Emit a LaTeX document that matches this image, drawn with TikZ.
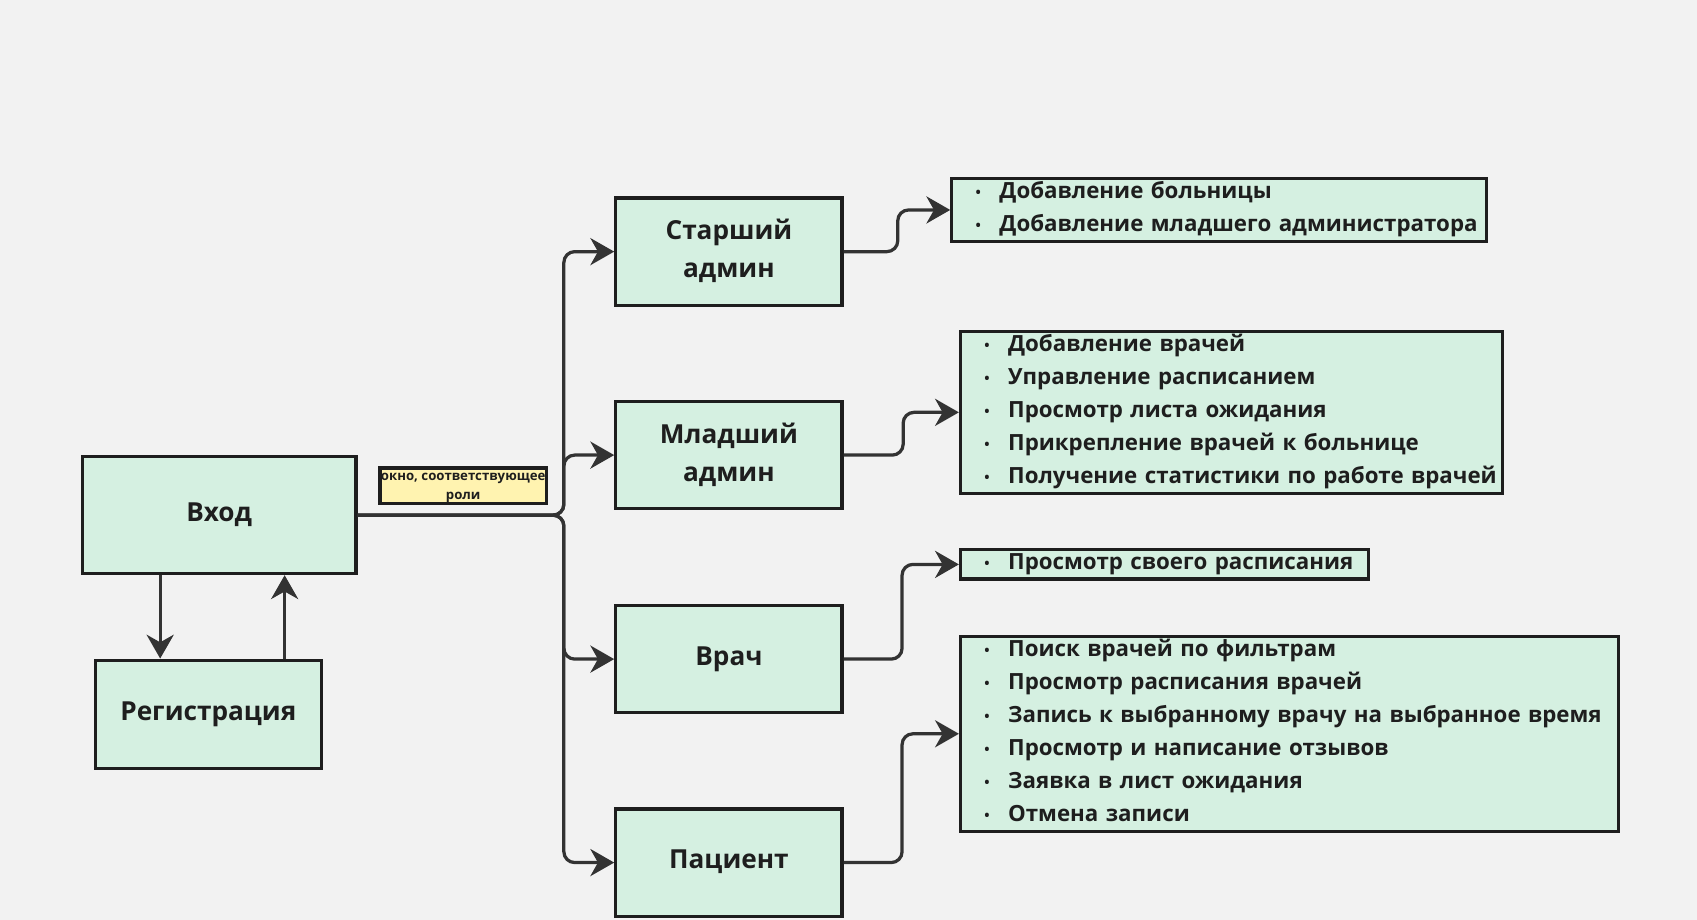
\documentclass[tikz,border=0pt]{standalone}
\usepackage{fontspec}
\setmainfont{Open Sans}
\usetikzlibrary{arrows.meta,positioning}

\definecolor{bgcol}{HTML}{F2F2F2}
\definecolor{mint}{HTML}{D5F0E1}
\definecolor{notecol}{HTML}{FFF3B0}
\definecolor{edgecol}{HTML}{333333}
\definecolor{framecol}{HTML}{1E1E1E}

% one bullet line of a list box
\newcommand{\itm}[1]{\hspace*{22pt}\makebox[22pt][l]{\raisebox{1pt}{\fontsize{13}{13}\selectfont•}}%
  \rule[-6pt]{0pt}{21pt}\mbox{#1}}

\begin{document}
\begin{tikzpicture}[x=1pt,y=-1pt,
    box/.style={draw=framecol,line width=3pt,fill=mint,text=framecol,
      minimum width=209pt,minimum height=99pt,align=center,
      execute at begin node={\rule[-6pt]{0pt}{23.8pt}},
      font=\fontsize{24.2}{35}\selectfont\bfseries},
    listbox/.style={draw=framecol,line width=3pt,fill=mint,text=framecol,
      anchor=west,inner xsep=0pt,inner ysep=0pt,align=left,
      font=\fontsize{20.6}{30.5}\selectfont\bfseries},
    notebox/.style={draw=framecol,line width=3pt,fill=notecol,text=framecol,
      minimum width=154pt,minimum height=33pt,inner sep=0pt,align=center,
      font=\fontsize{12.2}{18}\selectfont\bfseries},
    conn/.style={draw=edgecol,line width=3pt,rounded corners=10pt,
      -{Stealth[length=22pt,width=25pt,inset=7pt]}}]
    \fill [bgcol] (0,0) rectangle (1568,850);
    \useasboundingbox (0,0) rectangle (1568,850);

    % left part
    \node [box,minimum width=253pt,minimum height=108pt] (entry) at (202.5,476) {Вход};
    \node [box,minimum height=100pt] (reg) at (192.5,660) {Регистрация};
    \node [notebox] (hint) at (428,449) {\rule{0pt}{10.7pt}окно, соответствующее\\роли};

    % roles
    \node [box] (senior) at (673.5,232.5) {Старший\\админ};
    \node [box] (junior) at (673.5,420.5) {Младший\\админ};
    \node [box] (doctor) at (673.5,609) {Врач};
    \node [box] (patient) at (673.5,797) {Пациент};

    % what each role can do
    \node [listbox,text width=494pt,minimum height=58pt] (list1) at (878,194)
      {\itm{Добавление больницы}\\
       \itm{Добавление младшего администратора}};
    \node [listbox,text width=501pt,minimum height=150pt] (list2) at (886,381)
      {\itm{Добавление врачей}\\
       \itm{Управление расписанием}\\
       \itm{Просмотр листа ожидания}\\
       \itm{Прикрепление врачей к больнице}\\
       \itm{Получение статистики по работе врачей}};
    \node [listbox,text width=377pt,minimum height=27pt] (list3) at (886,521.5)
      {\itm{Просмотр своего расписания}};
    \node [listbox,text width=608pt,minimum height=180pt] (list4) at (886,678)
      {\itm{Поиск врачей по фильтрам}\\
       \itm{Просмотр расписания врачей}\\
       \itm{Запись к выбранному врачу на выбранное время}\\
       \itm{Просмотр и написание отзывов}\\
       \itm{Заявка в лист ожидания}\\
       \itm{Отмена записи}};

    % connectors
    \draw [conn] ([xshift=-54.5pt]entry.south) -- ([xshift=-54.5pt]entry.south |- reg.north);
    \draw [conn] ([xshift=70.5pt]reg.north) -- ([xshift=70.5pt]reg.north |- entry.south);
    \coordinate (hub) at (521,476);
    \foreach \role in {senior,junior,doctor,patient}
        \draw [conn] (entry.east) -- (hub) |- (\role.west);
    \draw [conn] (senior.east) -- ++(50,0) |- (list1.west);
    \draw [conn] (junior.east) -- ++(55,0) |- (list2.west);
    \draw [conn] (doctor.east) -- ++(54,0) |- (list3.west);
    \draw [conn] (patient.east) -- ++(54,0) |- (list4.west);
\end{tikzpicture}
\end{document}
